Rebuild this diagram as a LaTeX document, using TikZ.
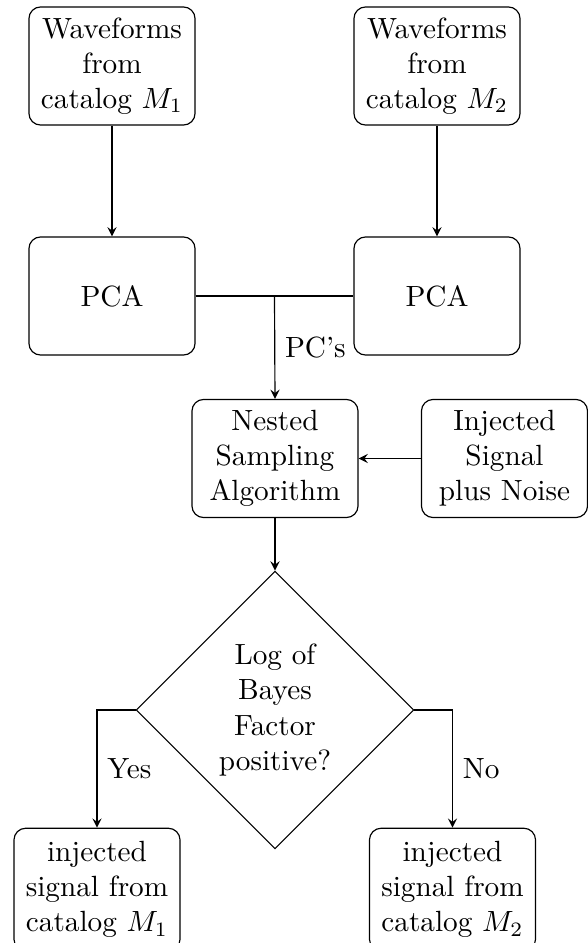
\documentclass[tikz,border=0pt]{standalone}
\usetikzlibrary{shapes.geometric,arrows}
\begin{document}
\begin{tikzpicture}[x=0.342pt,y=-0.342pt,
  box/.style={draw,rounded corners=4pt,align=center,minimum width=56.8pt,minimum height=40.4pt,inner sep=2pt},
  dec/.style={draw,diamond,aspect=1,align=center,minimum size=95pt,inner sep=0pt},
  conn/.style={-stealth},
  lbl/.style={right,inner sep=3.33pt}]
\useasboundingbox (0,0) rectangle (588,943);
\node[box] (wf1) at (112,66) {Waveforms\\from\\catalog $M_1$};
\node[box] (wf2) at (437,66) {Waveforms\\from\\catalog $M_2$};
\node[box] (pca1) at (112,296) {PCA};
\node[box] (pca2) at (437,296) {PCA};
\node[box] (nest) at (275,458.5) {Nested\\Sampling\\Algorithm};
\node[box] (inj) at (504.5,458.5) {Injected\\Signal\\plus Noise};
\node[dec] (dia) at (275,710) {Log of\\Bayes\\Factor\\positive?};
\node[box,minimum height=41.9pt] (out1) at (97,889.5) {injected\\signal from\\catalog $M_1$};
\node[box,minimum height=41.9pt] (out2) at (452.5,889.5) {injected\\signal from\\catalog $M_2$};
\draw[conn] (wf1) -- (pca1);
\draw[conn] (wf2) -- (pca2);
\draw (pca1.east) -- coordinate (jn) (pca2.west);
\draw[conn] (jn) -- node[lbl] {PC's} (nest.north);
\draw[conn] (inj) -- (nest);
\draw[conn] (nest) -- (dia);
\draw[conn] (dia.west) -| node[lbl,pos=0.75] {Yes} (out1.north);
\draw[conn] (dia.east) -| node[lbl,pos=0.75] {No} (out2.north);
\end{tikzpicture}
\end{document}
